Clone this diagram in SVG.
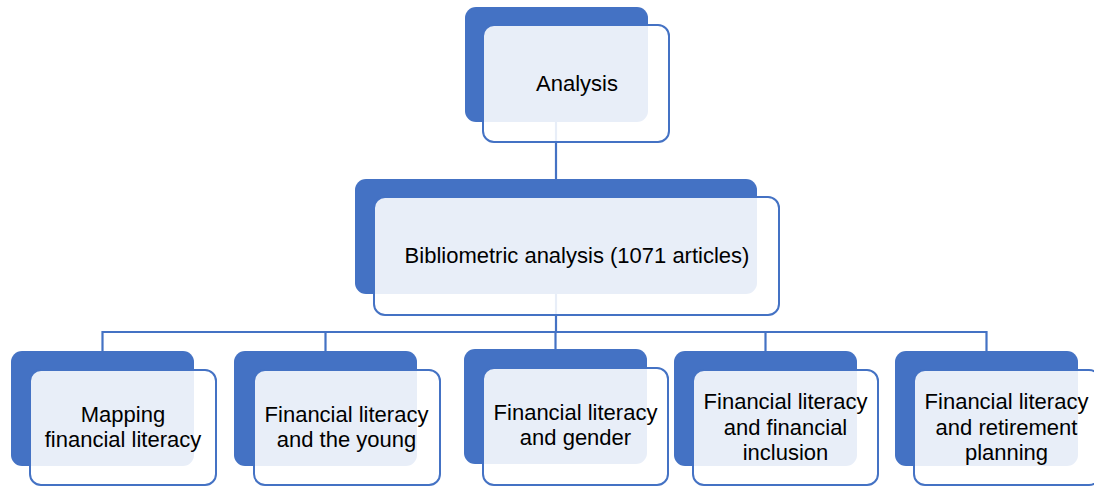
<svg xmlns="http://www.w3.org/2000/svg" width="1094" height="486" viewBox="0 0 1094 486">
<style>
.back{fill:#4472C4;}
.front{fill:#FFFFFF;fill-opacity:0.88;stroke:#4472C4;stroke-width:2;}
.conn{fill:none;stroke:#4472C4;stroke-width:2.2;}
text{font-family:"Liberation Sans",Arial,sans-serif;font-size:22px;fill:#000000;text-anchor:middle;}
</style>
<rect width="1094" height="486" fill="#FFFFFF"/>
<g id="connectors">
<path class="conn" d="M556,122 V179"/>
<path class="conn" d="M556,294 V332"/>
<path class="conn" d="M102.5,351 V332 H986.5 V351"/>
<path class="conn" d="M325.5,332 V351"/>
<path class="conn" d="M555.5,332 V349"/>
<path class="conn" d="M765.5,332 V351"/>
</g>
<g id="analysis">
<rect class="back" x="465" y="7" width="183" height="115" rx="11"/>
<rect class="front" x="483" y="25" width="186" height="117" rx="11"/>
<text x="577" y="91">Analysis</text>
</g>
<g id="bibliometric">
<rect class="back" x="355" y="179" width="402" height="115" rx="11"/>
<rect class="front" x="374" y="197" width="405" height="118" rx="11"/>
<text x="577" y="263">Bibliometric analysis (1071 articles)</text>
</g>
<g id="mapping">
<rect class="back" x="11" y="351" width="183" height="115" rx="11"/>
<rect class="front" x="30" y="370" width="186" height="115" rx="11"/>
<text x="123" y="422">Mapping</text>
<text x="123" y="447">financial literacy</text>
</g>
<g id="young">
<rect class="back" x="234" y="351" width="183" height="115" rx="11"/>
<rect class="front" x="254" y="370" width="186" height="115" rx="11"/>
<text x="346.5" y="422">Financial literacy</text>
<text x="346.5" y="447">and the young</text>
</g>
<g id="gender">
<rect class="back" x="464" y="349" width="183" height="115" rx="11"/>
<rect class="front" x="483" y="368" width="185" height="117" rx="11"/>
<text x="575.5" y="420">Financial literacy</text>
<text x="575.5" y="445">and gender</text>
</g>
<g id="inclusion">
<rect class="back" x="674" y="351" width="183" height="115" rx="11"/>
<rect class="front" x="693" y="370" width="185" height="115" rx="11"/>
<text x="785.5" y="409">Financial literacy</text>
<text x="785.5" y="434.5">and financial</text>
<text x="785.5" y="460">inclusion</text>
</g>
<g id="retirement">
<rect class="back" x="895" y="351" width="183" height="115" rx="11"/>
<rect class="front" x="914" y="370" width="186" height="115" rx="11"/>
<text x="1006.5" y="409">Financial literacy</text>
<text x="1006.5" y="434.5">and retirement</text>
<text x="1006.5" y="460">planning</text>
</g>
</svg>
